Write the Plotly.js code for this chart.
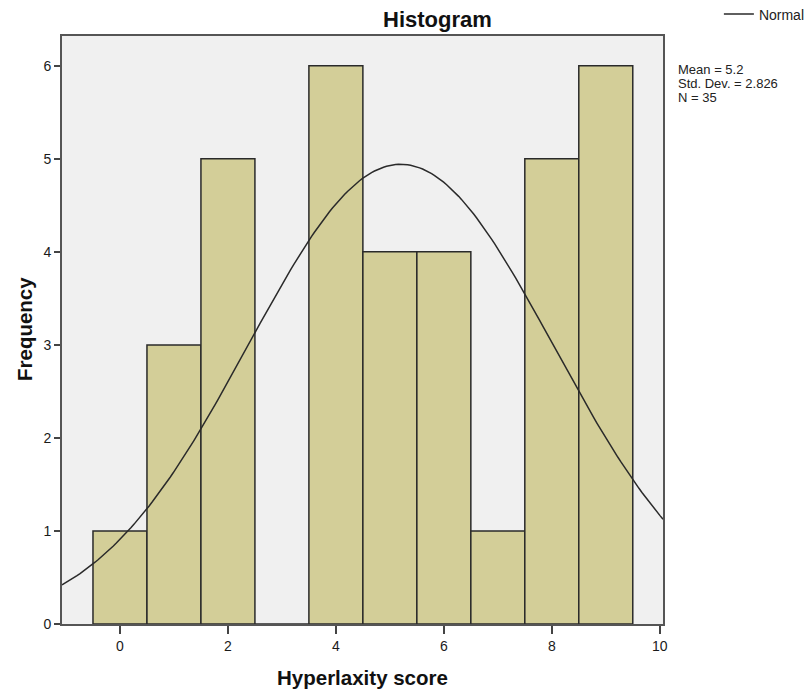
<!DOCTYPE html>
<html>
<head>
<meta charset="utf-8">
<script src="https://cdn.plot.ly/plotly-3.0.1.min.js"></script>
<style>html,body{margin:0;padding:0;background:#fff;}</style>
</head>
<body>
<div id="chart" style="width:806px;height:691px;"></div>
<script>
// Data
const scores = [0, 1, 2, 3, 4, 5, 6, 7, 8, 9];
const frequencies = [1, 3, 5, 0, 6, 4, 4, 1, 5, 6];
const statMean = 5.2;
const statSD = 2.826;
const statN = 35;
const xTicks = [0, 2, 4, 6, 8, 10];
const yTicks = [0, 1, 2, 3, 4, 5, 6];

// Normal curve overlay derived from the stated Mean / Std. Dev. / N (bin width 1)
const xRange = [-1.074, 10.06];
const curveX = [], curveY = [];
for (let i = 0; i <= 200; i++) {
  const x = xRange[0] + (xRange[1] - xRange[0]) * i / 200;
  curveX.push(x);
  curveY.push(statN * 1 / (statSD * Math.sqrt(2 * Math.PI)) *
    Math.exp(-Math.pow(x - statMean, 2) / (2 * statSD * statSD)));
}

const font = "Liberation Sans, Arial, sans-serif";

const traces = [
  {
    type: 'bar', x: scores, y: frequencies, width: 1,
    marker: {color: '#D3CE98', line: {color: '#2a2a2a', width: 1.5}},
    showlegend: false, hoverinfo: 'x+y'
  },
  {
    type: 'scatter', mode: 'lines', x: curveX, y: curveY, name: 'Normal',
    line: {color: '#2a2a2a', width: 1.5}, showlegend: true
  }
];

const statLines = ['Mean = ' + statMean, 'Std. Dev. = ' + statSD.toFixed(3), 'N = ' + statN];
const statY = [0.9422, 0.9184, 0.8946];

const layout = {
  width: 806, height: 691,
  margin: {l: 62, r: 143, t: 36, b: 67, autoexpand: false},
  paper_bgcolor: '#ffffff', plot_bgcolor: '#F0F0F0',
  font: {family: font, size: 14, color: '#222'},
  bargap: 0,
  xaxis: {
    range: xRange, tickvals: xTicks, ticktext: xTicks.map(String),
    ticks: 'outside', ticklen: 8, tickwidth: 2, tickcolor: '#444',
    showline: true, linecolor: '#555', linewidth: 2, mirror: true,
    showgrid: false, zeroline: false, automargin: false,
    tickfont: {family: font, size: 14, color: '#1a1a1a'}
  },
  yaxis: {
    range: [0, 6.32], tickvals: yTicks, ticktext: yTicks.map(String),
    ticks: 'outside', ticklen: 6, tickwidth: 2, tickcolor: '#444',
    showline: true, linecolor: '#555', linewidth: 2, mirror: true,
    showgrid: false, zeroline: false, automargin: false,
    tickfont: {family: font, size: 14, color: '#1a1a1a'}
  },
  legend: {
    x: 1.093, y: 1.0638, xanchor: 'left', yanchor: 'top',
    bgcolor: 'rgba(0,0,0,0)', font: {family: font, size: 14, color: '#222'},
    itemwidth: 30
  },
  annotations: [
    {
      text: '<b>Histogram</b>', xref: 'paper', yref: 'paper',
      x: 0.624, y: 1.0289, xanchor: 'center', yanchor: 'middle',
      showarrow: false, font: {family: font, size: 22, color: '#111'}
    },
    {
      text: '<b>Hyperlaxity score</b>', xref: 'paper', yref: 'paper',
      x: 0.5, y: -0.0918, xanchor: 'center', yanchor: 'middle',
      showarrow: false, font: {family: font, size: 20.5, color: '#111'}
    },
    {
      text: '<b>Frequency</b>', xref: 'paper', yref: 'paper', textangle: -90,
      x: -0.0632, y: 0.5017, xanchor: 'center', yanchor: 'middle',
      showarrow: false, font: {family: font, size: 20.5, color: '#111'}
    }
  ].concat(statLines.map((t, i) => ({
    text: t, xref: 'paper', yref: 'paper', x: 1.022, y: statY[i],
    xanchor: 'left', yanchor: 'middle', align: 'left', showarrow: false,
    font: {family: font, size: 13, color: '#222'}
  })))
};

Plotly.newPlot('chart', traces, layout, {displayModeBar: false, staticPlot: true});
</script>
</body>
</html>
